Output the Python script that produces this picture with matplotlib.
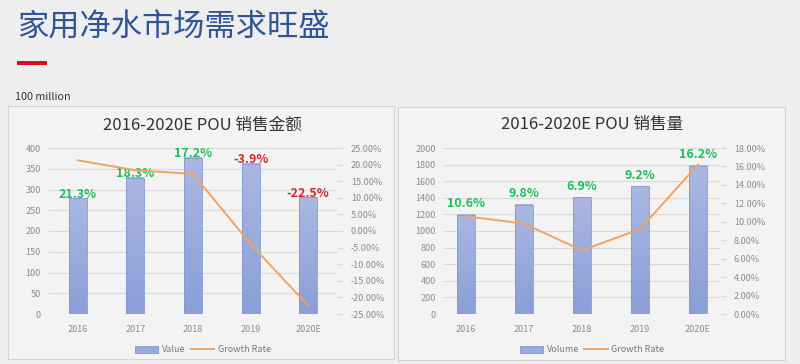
import matplotlib
matplotlib.use("Agg")
import matplotlib.pyplot as plt
import numpy as np
from matplotlib.patches import Rectangle
from matplotlib.lines import Line2D
from matplotlib.colors import LinearSegmentedColormap

plt.rcParams["font.family"] = ["Noto Sans CJK SC", "DejaVu Sans"]

years = ["2016", "2017", "2018", "2019", "2020E"]

# sales value (100 million) and growth rate (%)
value = [279, 328, 377, 362, 281]
value_growth = [21.3, 18.3, 17.2, -3.9, -22.5]

# sales volume and growth rate (%)
volume = [1195, 1316, 1408, 1537, 1787]
volume_growth = [10.6, 9.8, 6.9, 9.2, 16.2]

page_title = "家用净水市场需求旺盛"
unit_text = "100 million"
title_value = "2016-2020E POU 销售金额"
title_volume = "2016-2020E POU 销售量"

BG = "#eeeeee"
PANEL = "#f3f3f3"
TICK = "#8c8c8c"
GRID = "#d9d9d9"
LINE = "#f4a25f"
GREEN = "#1fbf5a"
RED = "#d42a30"
bar_cmap = LinearSegmentedColormap.from_list("bar", ["#8a9ed8", "#aab7e1"])

W, H = 800, 364
fig = plt.figure(figsize=(8, 3.64), dpi=100, facecolor=BG)


def fx(px):
    return px / W


def fy(py):
    return 1 - py / H


def panel(x0, y0, x1, y1):
    fig.add_artist(Rectangle((fx(x0), fy(y1)), fx(x1 - x0), (y1 - y0) / H,
                             transform=fig.transFigure, facecolor=PANEL,
                             edgecolor="#d4d4d4", linewidth=0.8, zorder=0))


def draw_chart(box, xlim, bars, growth, ylim, yticks, rlim, rticks,
               title, title_x, bar_label, label_off, legend_x):
    ax = fig.add_axes(box)
    ax.set_facecolor("none")
    x = np.arange(len(years))
    bw = 0.31
    grad = np.linspace(0, 1, 64).reshape(-1, 1)
    for xi, h in zip(x, bars):
        ax.imshow(grad, extent=[xi - bw / 2, xi + bw / 2, 0, h], origin="lower",
                  aspect="auto", cmap=bar_cmap, zorder=2)
        ax.add_patch(Rectangle((xi - bw / 2, 0), bw, h, facecolor="none",
                               edgecolor="#8397d3", linewidth=0.6, zorder=3))
    ax.set_xlim(*xlim)
    ax.set_ylim(*ylim)
    ax.set_yticks(yticks)
    ax.set_xticks(x)
    ax.set_xticklabels(years)
    ax.yaxis.grid(True, color=GRID, linewidth=0.8)
    ax.set_axisbelow(True)
    for s in ax.spines.values():
        s.set_visible(False)
    ax.tick_params(axis="both", length=0, colors=TICK, labelsize=6.5, pad=6)
    ax.tick_params(axis="x", pad=8)

    ax2 = ax.twinx()
    ax2.plot(x, growth, color=LINE, linewidth=1.4, zorder=4)
    ax2.set_ylim(*rlim)
    ax2.set_yticks(rticks)
    ax2.set_yticklabels([f"{t:.2f}%" for t in rticks])
    for s in ax2.spines.values():
        s.set_visible(False)
    ax2.tick_params(axis="y", length=4, colors=TICK, labelsize=6.5, pad=6)
    ax2.tick_params(axis="y", color=GRID)

    for xi, h, g in zip(x, bars, growth):
        ax.annotate(f"{g:.1f}%", (xi, h), xytext=(0, label_off),
                    textcoords="offset points", ha="center", va="center",
                    fontsize=9, fontweight="bold",
                    color=GREEN if g >= 0 else RED, zorder=6)

    fig.text(fx(title_x), fy(125), title, ha="center", va="center",
             fontsize=12, color="#333333")

    handles = [Rectangle((0, 0), 1, 1, facecolor="#9aaade", edgecolor="#8397d3",
                         linewidth=0.6),
               Line2D([0], [0], color=LINE, linewidth=1.4)]
    fig.legend(handles, [bar_label, "Growth Rate"], loc="center",
               bbox_to_anchor=(fx(legend_x), fy(350)), ncol=2, frameon=False,
               fontsize=6.5, labelcolor="#777777", handlelength=2.6,
               handleheight=0.9, columnspacing=0.6, handletextpad=0.4)
    return ax


# page header
fig.text(fx(17), fy(28), page_title, ha="left", va="center", fontsize=22.5,
         color="#2f5597")
fig.add_artist(Rectangle((fx(17), fy(65)), fx(30), 4 / H, transform=fig.transFigure,
                         facecolor="#d0121b", edgecolor="none"))
fig.text(fx(15), fy(97), unit_text, ha="left", va="center", fontsize=7.8,
         color="#333333")

panel(8, 106, 394, 359)
panel(398, 107, 785, 360)

draw_chart([fx(49), fy(314), fx(337 - 49), 166 / H], (-0.5, 4.5),
           value, value_growth, (0, 400), np.arange(0, 401, 50),
           (-25, 25), np.arange(-25, 26, 5), title_value, 202, "Value", 3, 203)

draw_chart([fx(444), fy(314), fx(720 - 444), 166 / H], (-0.38, 4.38),
           volume, volume_growth, (0, 2000), np.arange(0, 2001, 200),
           (0, 18), np.arange(0, 19, 2), title_volume, 592, "Volume", 8, 592)

fig.savefig("out.png", dpi=100, facecolor=BG)
